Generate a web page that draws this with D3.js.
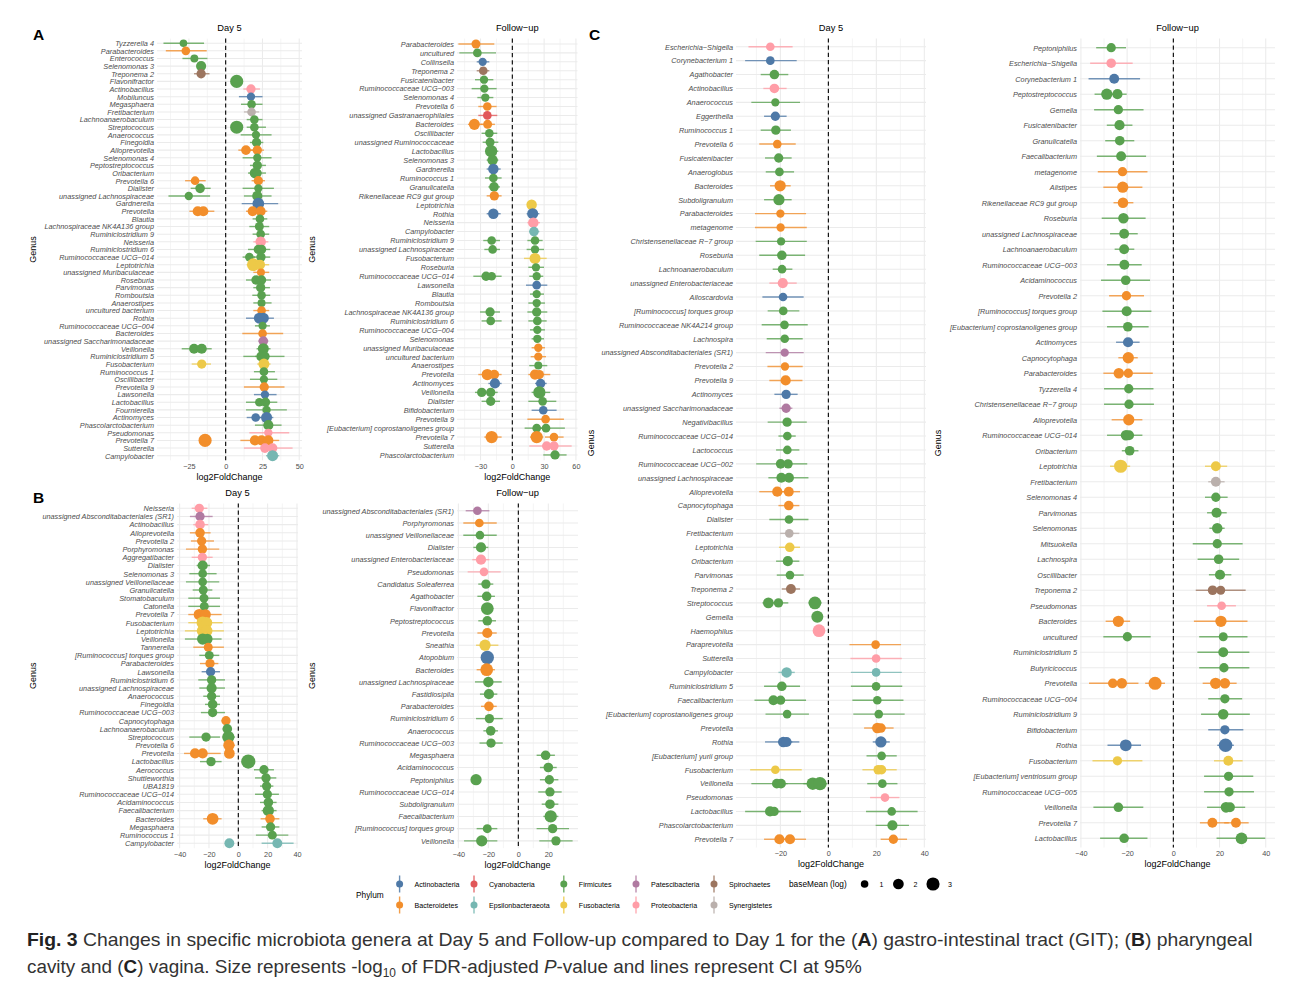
<!DOCTYPE html>
<html><head><meta charset="utf-8">
<script src="https://cdn.jsdelivr.net/npm/d3@7"></script>
<style>body{margin:0;background:#fff}svg{display:block}text{font-family:"Liberation Sans",Arial,Helvetica,sans-serif}</style>
</head><body><svg id="c" width="1295" height="985"></svg>
<script>
// ---------- phyla ----------
const phylumCodes = {Act:"Actinobacteria",Bac:"Bacteroidetes",Cya:"Cyanobacteria",Eps:"Epsilonbacteraeota",Fir:"Firmicutes",Fus:"Fusobacteria",Pat:"Patescibacteria",Pro:"Proteobacteria",Spi:"Spirochaetes",Syn:"Synergistetes"};
const legendRow1 = ["Actinobacteria","Cyanobacteria","Firmicutes","Patescibacteria","Spirochaetes"];
const legendRow2 = ["Bacteroidetes","Epsilonbacteraeota","Fusobacteria","Proteobacteria","Synergistetes"];
const phylumPalette = ["#4E79A7","#E15759","#59A14F","#B07AA1","#9C755F","#F28E2B","#76B7B2","#EDC948","#FF9DA7","#BAB0AC"];
const sizeBreaks = [1,2,3];

// ---------- tick labels ----------
const gitDay5Ticks = [-25,0,25,50];
const gitFollowTicks = [-30,0,30,60];
const phaDay5Ticks = [-40,-20,0,20,40];
const phaFollowTicks = [-40,-20,0,20];
const vagDay5Ticks = [-20,0,20,40];
const vagFollowTicks = [-40,-20,0,20,40];

// ---------- A: GIT Day 5 ----------
const gitDay5Genera = ["Tyzzerella 4","Parabacteroides","Enterococcus","Selenomonas 3","Treponema 2","Flavonifractor","Actinobacillus","Mobiluncus","Megasphaera","Fretibacterium","Lachnoanaerobaculum","Streptococcus","Anaerococcus","Finegoldia","Alloprevotella","Selenomonas 4","Peptostreptococcus","Oribacterium","Prevotella 6","Dialister","unassigned Lachnospiraceae","Gardnerella","Prevotella","Blautia","Lachnospiraceae NK4A136 group","Ruminiclostridium 9","Neisseria","Ruminiclostridium 6","Ruminococcaceae UCG−014","Leptotrichia","unassigned Muribaculaceae","Roseburia","Parvimonas","Romboutsia","Anaerostipes","uncultured bacterium","Rothia","Ruminococcaceae UCG−004","Bacteroides","unassigned Saccharimonadaceae","Veillonella","Ruminiclostridium 5","Fusobacterium","Ruminococcus 1","Oscillibacter","Prevotella 9","Lawsonella","Lactobacillus","Fournierella","Actinomyces","Phascolarctobacterium","Pseudomonas","Prevotella 7","Sutterella","Campylobacter"];
// [genus, log2FC, CI low, CI high, baseMean(log), phylum]
const gitDay5Points = [
["Tyzzerella 4",-28.7,-42.3,-14.7,1.0,"Fir"],["Parabacteroides",-27.1,-40.7,-12.9,1.3,"Bac"],["Enterococcus",-21.3,-29.4,-12.4,1.1,"Fir"],
["Selenomonas 3",-16.7,-19.5,-13.5,1.8,"Fir"],["Treponema 2",-16.7,-21.5,-11.0,1.5,"Spi"],["Flavonifractor",7.5,5.5,9.5,3.0,"Fir"],
["Actinobacillus",17.2,12.0,23.3,1.5,"Pro"],["Mobiluncus",17.2,9.0,25.1,1.2,"Act"],["Megasphaera",17.6,10.4,25.1,1.3,"Fir"],
["Fretibacterium",17.6,12.4,22.8,1.3,"Syn"],["Lachnoanaerobaculum",19.5,14.3,25.1,1.3,"Fir"],["Streptococcus",7.5,5.5,9.5,3.0,"Fir"],
["Streptococcus",19.5,14.3,27.4,1.3,"Fir"],["Anaerococcus",20.6,10.2,31.2,1.2,"Fir"],["Finegoldia",21.0,16.5,25.6,1.5,"Fir"],
["Alloprevotella",13.8,8.6,19.0,1.6,"Bac"],["Alloprevotella",21.5,16.0,26.0,1.5,"Bac"],["Selenomonas 4",21.5,11.5,31.2,1.2,"Fir"],
["Peptostreptococcus",21.5,16.5,27.4,1.5,"Fir"],["Oribacterium",20.0,15.2,24.0,2.0,"Fir"],["Oribacterium",21.5,18.0,27.4,1.4,"Fir"],
["Prevotella 6",-20.8,-27.6,-13.6,1.3,"Bac"],["Prevotella 6",22.2,17.6,26.7,1.5,"Bac"],["Dialister",-17.4,-23.8,-10.2,1.6,"Fir"],
["Dialister",22.2,11.5,32.8,1.2,"Fir"],["unassigned Lachnospiraceae",-25.1,-38.9,-10.6,1.2,"Fir"],["unassigned Lachnospiraceae",21.5,12.4,31.2,1.8,"Fir"],
["Gardnerella",22.2,10.9,35.7,2.4,"Act"],["Prevotella",-19.0,-24.7,-13.0,1.8,"Bac"],["Prevotella",-15.2,-19.0,-7.7,1.8,"Bac"],
["Prevotella",18.3,13.8,23.0,1.7,"Bac"],["Prevotella",23.8,19.0,28.3,1.7,"Bac"],["Blautia",23.3,18.3,28.3,1.3,"Fir"],
["Lachnospiraceae NK4A136 group",22.9,16.1,29.6,1.4,"Fir"],["Ruminiclostridium 9",23.8,18.3,29.6,1.3,"Fir"],["Neisseria",23.8,18.8,29.0,1.9,"Pro"],
["Ruminiclostridium 6",22.2,15.2,27.0,1.5,"Fir"],["Ruminiclostridium 6",24.4,20.0,30.3,1.5,"Fir"],["Ruminococcaceae UCG−014",16.1,11.5,20.0,1.3,"Fir"],
["Ruminococcaceae UCG−014",24.0,19.0,30.3,1.5,"Fir"],["Leptotrichia",18.8,14.3,22.0,2.8,"Fus"],["Leptotrichia",23.3,19.0,29.6,1.8,"Fus"],
["unassigned Muribaculaceae",24.0,18.8,29.6,1.1,"Bac"],["Roseburia",20.6,13.8,25.0,1.5,"Fir"],["Roseburia",24.4,20.0,30.8,1.5,"Fir"],
["Parvimonas",23.8,18.8,30.1,1.5,"Fir"],["Romboutsia",24.4,18.1,30.3,1.3,"Fir"],["Anaerostipes",24.4,18.8,31.2,1.1,"Fir"],
["uncultured bacterium",24.4,18.8,29.6,1.3,"Bac"],["Rothia",22.9,13.8,27.0,2.1,"Act"],["Rothia",25.6,21.0,32.8,2.1,"Act"],
["Ruminococcaceae UCG−004",25.1,19.9,30.1,1.2,"Fir"],["Bacteroides",25.1,11.3,39.1,1.3,"Bac"],["unassigned Saccharimonadaceae",25.6,22.2,29.0,1.6,"Pat"],
["Veillonella",-21.5,-29.9,-15.0,1.7,"Fir"],["Veillonella",-16.3,-21.0,-9.5,1.8,"Fir"],["Veillonella",25.6,21.0,30.5,2.1,"Fir"],
["Ruminiclostridium 5",24.4,12.0,30.0,1.9,"Fir"],["Ruminiclostridium 5",26.7,20.0,40.0,1.5,"Fir"],["Fusobacterium",-16.3,-23.1,-10.0,1.5,"Fus"],
["Fusobacterium",26.0,21.5,30.5,2.1,"Fus"],["Ruminococcus 1",26.0,19.2,33.5,1.3,"Fir"],["Oscillibacter",26.0,16.5,35.1,1.2,"Fir"],
["Prevotella 9",26.2,12.4,40.0,1.5,"Bac"],["Lawsonella",26.7,19.2,34.6,1.2,"Act"],["Lactobacillus",22.9,13.8,27.0,1.3,"Fir"],
["Lactobacillus",27.1,22.0,35.1,1.5,"Fir"],["Fournierella",27.8,13.8,41.6,1.2,"Fir"],["Actinomyces",20.4,14.3,25.0,1.3,"Act"],
["Actinomyces",27.8,22.0,32.4,2.1,"Act"],["Phascolarctobacterium",29.0,19.9,38.0,1.8,"Fir"],["Pseudomonas",29.0,16.1,43.2,1.2,"Pro"],
["Prevotella 7",-14.0,-16.0,-12.0,3.0,"Bac"],["Prevotella 7",19.9,10.0,24.0,1.8,"Bac"],["Prevotella 7",24.4,20.0,29.0,1.8,"Bac"],
["Prevotella 7",29.0,25.0,36.4,1.8,"Bac"],["Sutterella",26.7,12.4,32.0,1.6,"Pro"],["Sutterella",31.9,26.0,45.5,1.6,"Pro"],
["Campylobacter",31.9,27.4,36.4,2.1,"Eps"]];

// ---------- A: GIT Follow-up ----------
const gitFollowGenera = ["Parabacteroides","uncultured","Collinsella","Treponema 2","Fusicatenibacter","Ruminococcaceae UCG−003","Selenomonas 4","Prevotella 6","unassigned Gastranaerophilales","Bacteroides","Oscillibacter","unassigned Ruminococcaceae","Lactobacillus","Selenomonas 3","Gardnerella","Ruminococcus 1","Granulicatella","Rikenellaceae RC9 gut group","Leptotrichia","Rothia","Neisseria","Campylobacter","Ruminiclostridium 9","unassigned Lachnospiraceae","Fusobacterium","Roseburia","Ruminococcaceae UCG−014","Lawsonella","Blautia","Romboutsia","Lachnospiraceae NK4A136 group","Ruminiclostridium 6","Ruminococcaceae UCG−004","Selenomonas","unassigned Muribaculaceae","uncultured bacterium","Anaerostipes","Prevotella","Actinomyces","Veillonella","Dialister","Bifidobacterium","Prevotella 9","[Eubacterium] coprostanoligenes group","Prevotella 7","Sutterella","Phascolarctobacterium"];
const gitFollowPoints = [
["Parabacteroides",-34.3,-50.9,-17.0,1.4,"Bac"],["uncultured",-33.0,-50.0,-15.4,1.3,"Fir"],["Collinsella",-28.0,-33.6,-21.7,1.2,"Act"],
["Treponema 2",-27.4,-33.6,-21.7,1.3,"Spi"],["Fusicatenibacter",-26.7,-35.2,-17.9,1.2,"Fir"],["Ruminococcaceae UCG−003",-26.4,-38.4,-14.8,1.2,"Fir"],
["Selenomonas 4",-25.5,-33.0,-17.9,1.2,"Fir"],["Prevotella 6",-23.6,-32.1,-14.8,1.3,"Bac"],["unassigned Gastranaerophilales",-23.6,-32.1,-14.2,1.3,"Cya"],
["Bacteroides",-35.8,-41.8,-28.0,2.1,"Bac"],["Bacteroides",-23.3,-30.0,-16.4,1.4,"Bac"],["Oscillibacter",-21.7,-29.0,-14.2,1.3,"Fir"],
["unassigned Ruminococcaceae",-21.0,-28.0,-13.2,1.4,"Fir"],["Lactobacillus",-20.0,-25.8,-13.2,2.6,"Fir"],["Selenomonas 3",-18.6,-24.2,-13.2,1.9,"Fir"],
["Gardnerella",-17.9,-24.2,-11.0,1.9,"Act"],["Ruminococcus 1",-17.9,-25.8,-10.1,1.3,"Fir"],["Granulicatella",-17.3,-22.6,-11.6,1.6,"Fir"],
["Rikenellaceae RC9 gut group",-17.0,-24.2,-10.1,1.5,"Bac"],["Leptotrichia",18.2,14.0,22.0,1.9,"Fus"],["Rothia",-17.9,-24.2,-11.0,1.9,"Act"],
["Rothia",19.2,13.5,25.5,2.1,"Act"],["Neisseria",19.8,14.2,26.1,1.9,"Pro"],["Campylobacter",20.4,15.7,25.5,1.6,"Eps"],
["Ruminiclostridium 9",-19.5,-27.4,-11.6,1.3,"Fir"],["Ruminiclostridium 9",21.4,14.2,28.6,1.3,"Fir"],["unassigned Lachnospiraceae",-18.6,-26.4,-11.6,1.3,"Fir"],
["unassigned Lachnospiraceae",21.4,13.5,29.9,1.2,"Fir"],["Fusobacterium",21.4,11.0,32.4,2.1,"Fus"],["Roseburia",22.3,15.1,29.9,1.2,"Fir"],
["Ruminococcaceae UCG−014",-24.8,-36.8,-18.0,1.5,"Fir"],["Ruminococcaceae UCG−014",-19.5,-25.0,-10.1,1.3,"Fir"],["Ruminococcaceae UCG−014",23.0,16.0,29.2,1.2,"Fir"],
["Lawsonella",23.0,12.9,33.0,1.3,"Act"],["Blautia",23.0,16.7,29.9,1.2,"Fir"],["Romboutsia",23.0,15.1,30.8,1.2,"Fir"],
["Lachnospiraceae NK4A136 group",-21.0,-30.5,-11.6,1.5,"Fir"],["Lachnospiraceae NK4A136 group",23.0,14.2,33.0,1.5,"Fir"],
["Ruminiclostridium 6",-20.4,-29.0,-10.1,1.3,"Fir"],["Ruminiclostridium 6",23.6,15.1,32.4,1.3,"Fir"],["Ruminococcaceae UCG−004",23.6,16.7,30.8,1.2,"Fir"],
["Selenomonas",23.6,18.2,29.9,1.2,"Fir"],["unassigned Muribaculaceae",24.5,18.2,30.8,1.2,"Bac"],["uncultured bacterium",24.5,17.3,31.8,1.2,"Bac"],
["Anaerostipes",24.5,16.0,33.0,1.1,"Fir"],["Prevotella",-23.6,-32.1,-19.0,2.2,"Bac"],["Prevotella",-17.0,-22.0,-10.1,1.6,"Bac"],
["Prevotella",21.4,15.1,25.0,1.8,"Bac"],["Prevotella",25.5,21.0,35.8,1.5,"Bac"],["Actinomyces",-16.4,-22.6,-10.1,1.8,"Act"],
["Actinomyces",26.7,21.4,32.4,1.5,"Act"],["Veillonella",-28.9,-35.2,-23.0,1.5,"Fir"],["Veillonella",-20.4,-26.0,-13.8,1.5,"Fir"],
["Veillonella",25.5,18.2,35.8,2.6,"Fir"],["Dialister",-20.4,-29.0,-11.6,1.5,"Fir"],["Dialister",28.6,15.1,41.5,1.3,"Fir"],
["Bifidobacterium",29.2,18.2,41.8,1.3,"Act"],["Prevotella 9",31.4,14.2,48.7,1.3,"Bac"],["[Eubacterium] coprostanoligenes group",23.0,11.6,28.0,1.3,"Fir"],
["[Eubacterium] coprostanoligenes group",31.8,26.0,49.6,1.3,"Fir"],["Prevotella 7",-19.5,-26.4,-10.1,2.6,"Bac"],["Prevotella 7",23.0,16.7,29.2,2.6,"Bac"],
["Prevotella 7",39.3,30.8,48.4,1.3,"Bac"],["Sutterella",32.4,16.0,38.0,1.5,"Pro"],["Sutterella",39.3,33.0,56.0,1.5,"Pro"],
["Phascolarctobacterium",40.3,29.2,51.2,1.5,"Fir"]];

// ---------- B: pharyngeal Day 5 ----------
const phaDay5Genera = ["Neisseria","unassigned Absconditabacteriales (SR1)","Actinobacillus","Alloprevotella","Prevotella 2","Porphyromonas","Aggregatibacter","Dialister","Selenomonas 3","unassigned Veillonellaceae","Granulicatella","Stomatobaculum","Catonella","Prevotella 7","Fusobacterium","Leptotrichia","Veillonella","Tannerella","[Ruminococcus] torques group","Parabacteroides","Lawsonella","Ruminiclostridium 6","unassigned Lachnospiraceae","Anaerococcus","Finegoldia","Ruminococcaceae UCG−003","Capnocytophaga","Lachnoanaerobaculum","Streptococcus","Prevotella 6","Prevotella","Lactobacillus","Aerococcus","Shuttleworthia","UBA1819","Ruminococcaceae UCG−014","Acidaminococcus","Faecalibacterium","Bacteroides","Megasphaera","Ruminococcus 1","Campylobacter"];
const phaDay5Points = [
["Neisseria",-26.6,-31.8,-21.1,1.5,"Pro"],["unassigned Absconditabacteriales (SR1)",-26.1,-33.0,-17.5,1.5,"Pat"],["Actinobacillus",-26.1,-30.7,-20.5,1.6,"Pro"],
["Alloprevotella",-26.1,-33.0,-18.9,1.6,"Bac"],["Prevotella 2",-25.0,-32.3,-16.6,1.5,"Bac"],["Porphyromonas",-24.5,-35.7,-13.0,1.5,"Bac"],
["Aggregatibacter",-24.5,-31.8,-17.5,1.5,"Pro"],["Dialister",-24.3,-28.4,-19.3,1.8,"Fir"],["Selenomonas 3",-24.3,-33.4,-14.8,1.3,"Fir"],
["unassigned Veillonellaceae",-24.3,-35.7,-13.0,1.3,"Fir"],["Granulicatella",-23.9,-31.1,-17.7,1.4,"Fir"],["Stomatobaculum",-23.4,-34.1,-12.5,1.4,"Fir"],
["Catonella",-23.2,-34.1,-12.5,1.4,"Fir"],["Prevotella 7",-26.6,-34.1,-20.0,2.2,"Bac"],["Prevotella 7",-22.3,-27.0,-11.4,1.9,"Bac"],
["Fusobacterium",-24.3,-34.1,-18.0,2.6,"Fus"],["Fusobacterium",-21.6,-27.0,-10.7,2.2,"Fus"],["Leptotrichia",-24.3,-36.4,-18.0,2.4,"Fus"],
["Leptotrichia",-21.6,-27.0,-9.8,2.4,"Fus"],["Veillonella",-24.3,-36.4,-18.0,2.2,"Fir"],["Veillonella",-21.1,-27.0,-11.4,1.9,"Fir"],
["Tannerella",-20.5,-30.7,-9.8,1.4,"Bac"],["[Ruminococcus] torques group",-19.8,-26.6,-13.0,1.4,"Fir"],["Parabacteroides",-19.3,-26.1,-13.6,1.5,"Bac"],
["Lawsonella",-18.9,-25.0,-12.5,1.5,"Act"],["Ruminiclostridium 6",-18.2,-27.3,-9.1,1.5,"Fir"],["unassigned Lachnospiraceae",-18.2,-26.6,-9.1,1.8,"Fir"],
["Anaerococcus",-18.2,-23.9,-12.5,1.5,"Fir"],["Finegoldia",-17.5,-22.7,-12.5,1.6,"Fir"],["Ruminococcaceae UCG−003",-17.5,-25.5,-9.1,1.5,"Fir"],
["Capnocytophaga",-8.4,-11.4,-5.7,1.5,"Bac"],["Lachnoanaerobaculum",-7.5,-10.7,-4.5,1.6,"Fir"],["Streptococcus",-22.0,-33.4,-12.5,1.5,"Fir"],
["Streptococcus",-6.8,-10.7,-2.3,2.6,"Fir"],["Prevotella 6",-6.4,-9.8,-2.3,2.2,"Bac"],["Prevotella",-29.5,-37.0,-24.0,1.8,"Bac"],
["Prevotella",-24.3,-28.0,-12.0,1.8,"Bac"],["Prevotella",-6.1,-9.0,-3.0,2.0,"Bac"],["Lactobacillus",-18.6,-26.1,-11.4,1.5,"Fir"],
["Lactobacillus",6.8,4.5,9.0,3.5,"Fir"],["Aerococcus",17.5,10.7,24.3,1.5,"Fir"],["Shuttleworthia",18.9,11.4,25.9,1.5,"Fir"],
["UBA1819",19.3,14.8,23.9,1.5,"Fir"],["Ruminococcaceae UCG−014",19.8,11.4,27.7,1.5,"Fir"],["Acidaminococcus",20.5,14.8,26.1,1.6,"Fir"],
["Faecalibacterium",20.5,15.9,26.1,2.2,"Fir"],["Bacteroides",-17.5,-23.9,-11.4,2.4,"Bac"],["Bacteroides",21.6,15.2,28.0,1.6,"Bac"],
["Megasphaera",22.0,15.9,28.0,1.5,"Fir"],["Ruminococcus 1",23.2,12.0,34.1,1.4,"Fir"],["Campylobacter",-6.1,-8.0,-4.0,1.7,"Eps"],
["Campylobacter",26.6,15.9,37.7,1.7,"Eps"]];

// ---------- B: pharyngeal Follow-up ----------
const phaFollowGenera = ["unassigned Absconditabacteriales (SR1)","Porphyromonas","unassigned Veillonellaceae","Dialister","unassigned Enterobacteriaceae","Pseudomonas","Candidatus Soleaferrea","Agathobacter","Flavonifractor","Peptostreptococcus","Prevotella","Sneathia","Atopobium","Bacteroides","unassigned Lachnospiraceae","Fastidiosipila","Parabacteroides","Ruminiclostridium 6","Anaerococcus","Ruminococcaceae UCG−003","Megasphaera","Acidaminococcus","Peptoniphilus","Ruminococcaceae UCG−014","Subdoligranulum","Faecalibacterium","[Ruminococcus] torques group","Veillonella"];
const phaFollowPoints = [
["unassigned Absconditabacteriales (SR1)",-27.3,-35.1,-19.3,1.3,"Pat"],["Porphyromonas",-26.0,-36.7,-14.4,1.3,"Bac"],["unassigned Veillonellaceae",-25.6,-36.7,-14.4,1.3,"Fir"],
["Dialister",-24.9,-30.0,-20.0,1.8,"Fir"],["unassigned Enterobacteriaceae",-24.9,-30.7,-19.3,1.8,"Pro"],["Pseudomonas",-22.9,-33.8,-11.8,1.3,"Pro"],
["Candidatus Soleaferrea",-21.6,-26.7,-16.7,1.5,"Fir"],["Agathobacter",-21.1,-27.3,-15.6,1.6,"Fir"],["Flavonifractor",-20.7,-24.4,-16.7,2.8,"Fir"],
["Peptostreptococcus",-20.7,-26.7,-14.9,1.6,"Fir"],["Prevotella",-20.7,-27.3,-14.4,1.8,"Bac"],["Sneathia",-22.2,-28.2,-13.3,2.2,"Fus"],
["Atopobium",-20.7,-24.4,-16.7,3.1,"Act"],["Bacteroides",-21.1,-27.8,-15.6,2.8,"Bac"],["unassigned Lachnospiraceae",-20.0,-28.9,-11.1,1.9,"Fir"],
["Fastidiosipila",-19.6,-25.6,-14.0,1.8,"Fir"],["Parabacteroides",-19.6,-24.9,-14.4,1.6,"Bac"],["Ruminiclostridium 6",-19.3,-28.2,-10.4,1.5,"Fir"],
["Anaerococcus",-18.4,-23.3,-13.6,1.6,"Fir"],["Ruminococcaceae UCG−003",-18.2,-25.9,-10.4,1.5,"Fir"],["Megasphaera",18.2,12.2,24.4,1.6,"Fir"],
["Acidaminococcus",20.0,14.4,25.6,1.6,"Fir"],["Peptoniphilus",-28.2,-31.0,-25.5,2.2,"Fir"],["Peptoniphilus",20.7,14.4,26.7,1.5,"Fir"],
["Ruminococcaceae UCG−014",21.1,13.3,28.9,1.5,"Fir"],["Subdoligranulum",21.1,15.6,26.7,1.6,"Fir"],["Faecalibacterium",21.6,16.7,26.7,2.6,"Fir"],
["[Ruminococcus] torques group",-20.7,-27.8,-14.0,1.4,"Fir"],["[Ruminococcus] torques group",22.9,12.2,33.8,1.5,"Fir"],
["Veillonella",-24.4,-36.2,-14.0,2.2,"Fir"],["Veillonella",25.1,14.0,36.2,1.5,"Fir"]];

// ---------- C: vagina Day 5 ----------
const vagDay5Genera = ["Escherichia−Shigella","Corynebacterium 1","Agathobacter","Actinobacillus","Anaerococcus","Eggerthella","Ruminococcus 1","Prevotella 6","Fusicatenibacter","Anaeroglobus","Bacteroides","Subdoligranulum","Parabacteroides","metagenome","Christensenellaceae R−7 group","Roseburia","Lachnoanaerobaculum","unassigned Enterobacteriaceae","Alloscardovia","[Ruminococcus] torques group","Ruminococcaceae NK4A214 group","Lachnospira","unassigned Absconditabacteriales (SR1)","Prevotella 2","Prevotella 9","Actinomyces","unassigned Saccharimonadaceae","Negativibacillus","Ruminococcaceae UCG−014","Lactococcus","Ruminococcaceae UCG−002","unassigned Lachnospiraceae","Alloprevotella","Capnocytophaga","Dialister","Fretibacterium","Leptotrichia","Oribacterium","Parvimonas","Treponema 2","Streptococcus","Gemella","Haemophilus","Paraprevotella","Sutterella","Campylobacter","Ruminiclostridium 5","Faecalibacterium","[Eubacterium] coprostanoligenes group","Prevotella","Rothia","[Eubacterium] yurii group","Fusobacterium","Veillonella","Pseudomonas","Lactobacillus","Phascolarctobacterium","Prevotella 7"];
const vagDay5Points = [
["Escherichia−Shigella",-24.2,-33.3,-14.9,1.3,"Pro"],["Corynebacterium 1",-24.2,-34.7,-13.2,1.3,"Act"],["Agathobacter",-22.5,-28.2,-16.7,1.6,"Fir"],
["Actinobacillus",-22.5,-27.1,-17.4,1.6,"Pro"],["Anaerococcus",-22.1,-32.1,-11.8,1.2,"Fir"],["Eggerthella",-22.1,-26.8,-17.4,1.5,"Act"],
["Ruminococcus 1",-21.9,-28.2,-15.6,1.5,"Fir"],["Prevotella 6",-21.3,-28.8,-13.6,1.3,"Bac"],["Fusicatenibacter",-20.7,-26.4,-15.3,1.5,"Fir"],
["Anaeroglobus",-20.4,-26.1,-14.3,1.3,"Fir"],["Bacteroides",-20.1,-24.3,-15.7,2.2,"Bac"],["Subdoligranulum",-20.6,-26.8,-15.3,2.2,"Fir"],
["Parabacteroides",-20.0,-30.6,-9.3,1.2,"Bac"],["metagenome",-19.9,-30.6,-9.0,1.2,"Bac"],["Christensenellaceae R−7 group",-19.7,-30.3,-9.0,1.2,"Fir"],
["Roseburia",-19.4,-28.8,-9.7,1.6,"Fir"],["Lachnoanaerobaculum",-19.3,-23.2,-15.0,1.3,"Fir"],["unassigned Enterobacteriaceae",-19.0,-24.6,-13.2,1.8,"Pro"],
["Alloscardovia",-18.9,-27.5,-10.3,1.3,"Act"],["[Ruminococcus] torques group",-18.8,-25.3,-12.1,1.3,"Fir"],["Ruminococcaceae NK4A214 group",-18.3,-27.8,-8.6,1.3,"Fir"],
["Lachnospira",-18.2,-25.7,-10.7,1.3,"Fir"],["unassigned Absconditabacteriales (SR1)",-18.2,-26.1,-10.3,1.2,"Pat"],["Prevotella 2",-18.1,-25.4,-10.7,1.2,"Bac"],
["Prevotella 9",-17.8,-24.6,-10.8,1.8,"Bac"],["Actinomyces",-17.6,-22.5,-12.8,1.5,"Act"],["unassigned Saccharimonadaceae",-17.6,-20.4,-15.0,1.5,"Pat"],
["Negativibacillus",-17.2,-25.3,-9.0,1.5,"Fir"],["Ruminococcaceae UCG−014",-17.1,-20.8,-13.6,1.3,"Fir"],["Lactococcus",-17.1,-21.8,-12.1,1.3,"Fir"],
["Ruminococcaceae UCG−002",-19.9,-30.1,-15.0,1.6,"Fir"],["Ruminococcaceae UCG−002",-16.8,-21.0,-8.8,1.5,"Fir"],
["unassigned Lachnospiraceae",-19.6,-25.0,-15.0,1.7,"Fir"],["unassigned Lachnospiraceae",-16.4,-20.0,-8.3,1.7,"Fir"],
["Alloprevotella",-21.3,-28.8,-17.0,1.8,"Bac"],["Alloprevotella",-16.5,-20.0,-11.8,1.7,"Bac"],["Capnocytophaga",-16.5,-20.8,-12.1,1.6,"Bac"],
["Dialister",-16.4,-24.6,-8.3,1.3,"Fir"],["Fretibacterium",-16.3,-20.1,-12.1,1.3,"Syn"],["Leptotrichia",-16.1,-20.6,-11.8,1.6,"Fus"],
["Oribacterium",-16.9,-21.8,-12.1,1.8,"Fir"],["Parvimonas",-16.0,-21.5,-10.3,1.3,"Fir"],["Treponema 2",-15.6,-19.4,-11.8,1.7,"Spi"],
["Streptococcus",-25.0,-27.5,-21.5,2.0,"Fir"],["Streptococcus",-20.8,-23.0,-16.7,1.5,"Fir"],["Streptococcus",-5.6,-8.3,-2.8,2.8,"Fir"],
["Gemella",-4.6,-6.5,-2.8,2.5,"Fir"],["Haemophilus",-3.9,-5.8,-2.0,2.8,"Pro"],["Paraprevotella",19.7,8.8,30.3,1.3,"Bac"],
["Sutterella",19.9,9.2,30.6,1.3,"Pro"],["Campylobacter",-17.4,-20.8,-14.0,1.9,"Eps"],["Campylobacter",19.9,9.4,30.6,1.3,"Eps"],
["Ruminiclostridium 5",-19.4,-26.8,-11.8,1.6,"Fir"],["Ruminiclostridium 5",19.9,9.4,30.8,1.3,"Fir"],
["Faecalibacterium",-22.9,-30.8,-18.5,1.7,"Fir"],["Faecalibacterium",-19.9,-24.0,-9.3,1.5,"Fir"],["Faecalibacterium",20.4,10.0,31.3,1.3,"Fir"],
["[Eubacterium] coprostanoligenes group",-17.2,-26.2,-8.1,1.3,"Fir"],["[Eubacterium] coprostanoligenes group",21.0,10.4,31.8,1.3,"Fir"],
["Prevotella",20.4,14.9,24.0,1.9,"Bac"],["Prevotella",21.9,18.0,27.2,1.6,"Bac"],["Rothia",-18.8,-26.4,-15.0,1.9,"Act"],
["Rothia",-17.4,-21.0,-12.1,1.7,"Act"],["Rothia",21.9,18.5,25.6,2.2,"Act"],["[Eubacterium] yurii group",22.2,15.9,28.5,1.3,"Fir"],
["Fusobacterium",-22.1,-32.6,-11.1,1.3,"Fus"],["Fusobacterium",20.8,14.2,24.0,1.6,"Fus"],["Fusobacterium",22.2,19.0,28.5,1.5,"Fus"],
["Veillonella",-21.5,-32.1,-17.0,1.6,"Fir"],["Veillonella",-19.7,-23.0,-7.6,1.6,"Fir"],["Veillonella",-6.5,-10.4,-3.0,2.7,"Fir"],
["Veillonella",-3.5,-6.0,-0.4,3.1,"Fir"],["Veillonella",22.5,16.2,28.8,1.3,"Fir"],["Pseudomonas",23.6,17.4,29.6,1.3,"Pro"],
["Lactobacillus",-24.3,-34.7,-20.0,1.8,"Fir"],["Lactobacillus",-22.6,-26.0,-11.4,1.5,"Fir"],["Lactobacillus",26.4,15.7,37.2,1.3,"Fir"],
["Phascolarctobacterium",26.7,19.7,33.6,1.8,"Fir"],["Prevotella 7",-20.4,-26.8,-16.0,1.8,"Bac"],["Prevotella 7",-16.0,-20.0,-9.3,1.8,"Bac"],
["Prevotella 7",27.1,21.8,32.8,1.5,"Bac"]];

// ---------- C: vagina Follow-up ----------
const vagFollowGenera = ["Peptoniphilus","Escherichia−Shigella","Corynebacterium 1","Peptostreptococcus","Gemella","Fusicatenibacter","Granulicatella","Faecalibacterium","metagenome","Alistipes","Rikenellaceae RC9 gut group","Roseburia","unassigned Lachnospiraceae","Lachnoanaerobaculum","Ruminococcaceae UCG−003","Acidaminococcus","Prevotella 2","[Ruminococcus] torques group","[Eubacterium] coprostanoligenes group","Actinomyces","Capnocytophaga","Parabacteroides","Tyzzerella 4","Christensenellaceae R−7 group","Alloprevotella","Ruminococcaceae UCG−014","Oribacterium","Leptotrichia","Fretibacterium","Selenomonas 4","Parvimonas","Selenomonas","Mitsuokella","Lachnospira","Oscillibacter","Treponema 2","Pseudomonas","Bacteroides","uncultured","Ruminiclostridium 5","Butyricicoccus","Prevotella","Ruminococcaceae UCG−004","Ruminiclostridium 9","Bifidobacterium","Rothia","Fusobacterium","[Eubacterium] ventriosum group","Ruminococcaceae UCG−005","Veillonella","Prevotella 7","Lactobacillus"];
const vagFollowPoints = [
["Peptoniphilus",-26.9,-33.4,-20.5,1.5,"Fir"],["Escherichia−Shigella",-26.9,-36.0,-17.6,1.6,"Pro"],["Corynebacterium 1",-25.6,-36.7,-14.4,1.7,"Act"],
["Peptostreptococcus",-28.8,-34.1,-25.0,2.2,"Fir"],["Peptostreptococcus",-24.2,-27.0,-20.2,1.8,"Fir"],["Gemella",-23.8,-34.3,-12.9,1.5,"Fir"],
["Fusicatenibacter",-23.3,-28.8,-17.7,1.8,"Fir"],["Granulicatella",-23.2,-29.5,-16.9,1.6,"Fir"],["Faecalibacterium",-22.6,-33.1,-11.8,1.7,"Fir"],
["metagenome",-22.0,-32.7,-11.2,1.5,"Bac"],["Alistipes",-21.9,-30.3,-13.4,2.2,"Bac"],["Rikenellaceae RC9 gut group",-21.8,-25.9,-17.3,1.9,"Bac"],
["Roseburia",-21.6,-31.0,-12.0,1.9,"Fir"],["unassigned Lachnospiraceae",-21.3,-27.4,-15.4,1.7,"Fir"],["Lachnoanaerobaculum",-21.3,-25.4,-16.9,1.7,"Fir"],
["Ruminococcaceae UCG−003",-21.2,-28.7,-13.7,1.7,"Fir"],["Acidaminococcus",-20.6,-31.3,-10.1,1.6,"Fir"],["Prevotella 2",-20.3,-27.8,-12.7,1.5,"Bac"],
["[Ruminococcus] torques group",-20.2,-30.7,-9.5,1.8,"Fir"],["[Eubacterium] coprostanoligenes group",-19.7,-28.7,-10.7,1.6,"Fir"],
["Actinomyces",-19.6,-24.8,-14.6,1.8,"Act"],["Capnocytophaga",-19.5,-23.8,-15.4,2.2,"Bac"],["Parabacteroides",-23.6,-30.3,-19.5,1.9,"Bac"],
["Parabacteroides",-19.5,-23.0,-8.9,1.5,"Bac"],["Tyzzerella 4",-19.3,-30.0,-8.6,1.5,"Fir"],["Christensenellaceae R−7 group",-19.2,-30.0,-8.4,1.5,"Fir"],
["Alloprevotella",-19.3,-26.7,-13.4,2.2,"Bac"],["Ruminococcaceae UCG−014",-20.5,-28.7,-17.0,1.9,"Fir"],["Ruminococcaceae UCG−014",-19.2,-22.0,-13.4,1.8,"Fir"],
["Oribacterium",-18.9,-22.3,-15.1,1.6,"Fir"],["Leptotrichia",-22.8,-27.4,-18.7,3.0,"Fus"],["Leptotrichia",18.4,13.7,23.3,1.7,"Fus"],
["Fretibacterium",18.4,15.1,22.2,1.7,"Syn"],["Selenomonas 4",18.4,13.7,23.5,1.5,"Fir"],["Parvimonas",18.7,14.6,23.1,1.8,"Fir"],
["Selenomonas",19.0,15.6,22.2,1.9,"Fir"],["Mitsuokella",19.0,8.4,30.0,1.5,"Fir"],["Lachnospira",19.6,10.5,28.5,1.6,"Fir"],
["Oscillibacter",20.2,15.4,25.1,1.8,"Fir"],["Treponema 2",17.0,9.7,20.0,1.6,"Spi"],["Treponema 2",20.5,17.0,31.3,1.4,"Spi"],
["Pseudomonas",20.9,14.6,27.1,1.3,"Pro"],["Bacteroides",-23.8,-29.3,-18.7,2.2,"Bac"],["Bacteroides",20.6,8.9,32.1,2.2,"Bac"],
["uncultured",-19.9,-30.3,-9.8,1.5,"Fir"],["uncultured",21.6,11.2,32.1,1.4,"Fir"],["Ruminiclostridium 5",21.6,10.4,32.9,1.7,"Fir"],
["Butyricicoccus",21.9,11.2,32.9,1.5,"Fir"],["Prevotella",-26.2,-36.5,-22.0,1.6,"Bac"],["Prevotella",-22.3,-26.0,-15.1,1.9,"Bac"],
["Prevotella",-7.9,-12.2,-3.6,3.0,"Bac"],["Prevotella",18.3,12.7,22.0,2.2,"Bac"],["Prevotella",22.3,19.0,27.4,1.9,"Bac"],
["Ruminococcaceae UCG−004",22.3,15.1,29.8,1.5,"Fir"],["Ruminiclostridium 9",21.6,12.0,33.1,1.9,"Fir"],["Bifidobacterium",22.3,15.1,30.3,1.5,"Act"],
["Rothia",-20.6,-28.5,-14.0,2.4,"Act"],["Rothia",22.6,19.0,26.2,3.2,"Act"],["Fusobacterium",-24.2,-35.0,-13.4,1.5,"Fus"],
["Fusobacterium",23.8,17.6,30.0,1.7,"Fus"],["[Eubacterium] ventriosum group",23.9,13.3,34.6,1.5,"Fir"],["Ruminococcaceae UCG−005",24.1,13.3,34.9,1.5,"Fir"],
["Veillonella",-23.8,-34.6,-13.0,1.6,"Fir"],["Veillonella",22.8,14.6,26.0,2.0,"Fir"],["Veillonella",24.5,21.0,31.1,1.7,"Fir"],
["Prevotella 7",16.9,11.5,24.0,1.7,"Bac"],["Prevotella 7",27.1,22.0,32.6,1.7,"Bac"],["Lactobacillus",-21.3,-31.7,-11.2,1.6,"Fir"],
["Lactobacillus",29.5,18.7,39.8,2.4,"Fir"]];

// ---------- drawing ----------
const svg = d3.select("#c");
const color = d3.scaleOrdinal().domain(legendRow1.concat(legendRow2)).range(phylumPalette);
const rScale = d3.scaleSqrt().domain([0,3]).range([0,3.8*Math.sqrt(3)]);
const GRID = "#EBEBEB", TXT = "#4D4D4D";
const minus = d => d < 0 ? "\u2212" + Math.abs(d) : String(d);

const panels = [
 {genera:gitDay5Genera, points:gitDay5Points, ticks:gitDay5Ticks, title:"Day 5", domain:[-46.7,51.9], left:157, right:302, top:38.6, bottom:460.3, genusX:33},
 {genera:gitFollowGenera, points:gitFollowPoints, ticks:gitFollowTicks, title:"Follow\u2212up", domain:[-52.2,61.5], left:457, right:577.5, top:38.6, bottom:460.3, genusX:312},
 {genera:phaDay5Genera, points:phaDay5Points, ticks:phaDay5Ticks, title:"Day 5", domain:[-41.8,40.7], left:177, right:298, top:503.4, bottom:848.2, genusX:33},
 {genera:phaFollowGenera, points:phaFollowPoints, ticks:phaFollowTicks, title:"Follow\u2212up", domain:[-40.9,39.8], left:457, right:578, top:503.4, bottom:848.2, genusX:312},
 {genera:vagDay5Genera, points:vagDay5Points, ticks:vagDay5Ticks, title:"Day 5", domain:[-38.5,40.7], left:736, right:926, top:38.4, bottom:847.6, genusX:591},
 {genera:vagFollowGenera, points:vagFollowPoints, ticks:vagFollowTicks, title:"Follow\u2212up", domain:[-40.4,44.0], left:1080, right:1275, top:38.4, bottom:847.6, genusX:938}
];

panels.forEach(p => {
  const x = d3.scaleLinear().domain(p.domain).range([p.left, p.right]);
  const y = d3.scalePoint().domain(p.genera).range([p.top, p.bottom]).padding(0.6);
  const g = svg.append("g");
  const step = p.ticks[1] - p.ticks[0];
  const minors = [];
  for (let m = p.ticks[0] - step/2; m <= p.domain[1]; m += step) if (m >= p.domain[0]) minors.push(m);
  g.append("g").selectAll("line").data(minors).join("line")
    .attr("x1", x).attr("x2", x).attr("y1", p.top).attr("y2", p.bottom)
    .attr("stroke", GRID).attr("stroke-width", 0.55);
  g.append("g").selectAll("line").data(p.ticks).join("line")
    .attr("x1", x).attr("x2", x).attr("y1", p.top).attr("y2", p.bottom)
    .attr("stroke", GRID).attr("stroke-width", 1.05);
  g.append("g").selectAll("line").data(p.genera).join("line")
    .attr("x1", p.left).attr("x2", p.right).attr("y1", y).attr("y2", y)
    .attr("stroke", GRID).attr("stroke-width", 1.05);
  g.append("line").attr("x1", x(0)).attr("x2", x(0)).attr("y1", p.top).attr("y2", p.bottom)
    .attr("stroke", "#000").attr("stroke-width", 1.1).attr("stroke-dasharray", "4.2,3");
  const ya = g.append("g").attr("transform", `translate(${p.left},0)`)
    .call(d3.axisLeft(y).tickSize(0).tickPadding(3));
  ya.select(".domain").remove();
  ya.selectAll("text").attr("font-size", 7.3).attr("font-style", "italic").attr("fill", TXT)
    .attr("font-family", '"Liberation Sans",Arial,sans-serif');
  const xa = g.append("g").attr("transform", `translate(0,${p.bottom + 3.4})`)
    .call(d3.axisBottom(x).tickValues(p.ticks).tickSize(0).tickPadding(0).tickFormat(minus));
  xa.select(".domain").remove();
  xa.selectAll("text").attr("font-size", 7.3).attr("fill", TXT)
    .attr("font-family", '"Liberation Sans",Arial,sans-serif');
  const cx = (p.left + p.right) / 2;
  g.append("text").attr("x", cx).attr("y", p.top - 7.3).attr("text-anchor", "middle")
    .attr("font-size", 9.3).attr("fill", "#000").text(p.title);
  g.append("text").attr("x", cx).attr("y", p.bottom + 19.8).attr("text-anchor", "middle")
    .attr("font-size", 9).attr("fill", "#000").text("log2FoldChange");
  g.append("text").attr("transform", `translate(${p.genusX + 3},${(p.top + p.bottom)/2}) rotate(-90)`)
    .attr("text-anchor", "middle").attr("font-size", 9).attr("fill", "#000").text("Genus");
  const mk = g.append("g").selectAll("g").data(p.points).join("g");
  mk.append("line").attr("x1", d => x(d[2])).attr("x2", d => x(d[3]))
    .attr("y1", d => y(d[0])).attr("y2", d => y(d[0]))
    .attr("stroke", d => color(phylumCodes[d[5]])).attr("stroke-width", 1.4).attr("stroke-opacity", 0.78);
  mk.append("circle").attr("cx", d => x(d[1])).attr("cy", d => y(d[0])).attr("r", d => rScale(d[4]))
    .attr("fill", d => color(phylumCodes[d[5]]));
});

[["A",33,40],["B",33,503],["C",589,39.5]].forEach(([t,xx,yy]) =>
  svg.append("text").attr("x", xx).attr("y", yy).attr("font-size", 15.5).attr("font-weight", "bold").attr("fill", "#000").text(t));

const lg = svg.append("g");
lg.append("text").attr("x", 356).attr("y", 898).attr("font-size", 8.3).attr("fill", "#000").text("Phylum");
const colX = [399.6, 474, 563.8, 636, 714];
[[legendRow1, 884],[legendRow2, 905]].forEach(([row, yy]) => {
  row.forEach((name, i) => {
    const k = lg.append("g");
    k.append("line").attr("x1", colX[i]).attr("x2", colX[i]).attr("y1", yy - 8.5).attr("y2", yy + 8.5)
      .attr("stroke", color(name)).attr("stroke-width", 1.4).attr("stroke-opacity", 0.85);
    k.append("circle").attr("cx", colX[i]).attr("cy", yy).attr("r", 3.5).attr("fill", color(name));
    k.append("text").attr("x", colX[i] + 15).attr("y", yy + 2.5).attr("font-size", 7.1).attr("fill", "#000").text(name);
  });
});
lg.append("text").attr("x", 789).attr("y", 887).attr("font-size", 8.3).attr("fill", "#000").text("baseMean (log)");
const dotX = [864.6, 898.4, 933];
sizeBreaks.forEach((b, i) => {
  lg.append("circle").attr("cx", dotX[i]).attr("cy", 884).attr("r", rScale(b)).attr("fill", "#000");
  lg.append("text").attr("x", dotX[i] + 17).attr("y", 886.5).attr("text-anchor", "middle").attr("font-size", 7.1).attr("fill", "#000").text(b);
});

function captionLine(yy, parts, targetW) {
  const t = svg.append("text").attr("x", 27).attr("y", yy).attr("font-size", 19).attr("fill", "#333")
    .attr("font-family", '"Open Sans","Liberation Sans",sans-serif');
  parts.forEach(pt => {
    const s = t.append("tspan").text(pt.t);
    if (pt.b) s.attr("font-weight", "bold").attr("fill", "#222");
    if (pt.i) s.attr("font-style", "italic");
    if (pt.sub) s.attr("font-size", 12).attr("dy", 4);
    if (pt.up) s.attr("dy", -4);
  });
  const w = t.node().getComputedTextLength();
  t.attr("transform", `translate(27,0) scale(${targetW / w},1) translate(-27,0)`);
}
captionLine(946, [{t:"Fig. 3", b:1},{t:" Changes in specific microbiota genera at Day 5 and Follow-up compared to Day 1 for the ("},{t:"A", b:1},{t:") gastro-intestinal tract (GIT); ("},{t:"B", b:1},{t:") pharyngeal"}], 1226);
captionLine(973, [{t:"cavity and ("},{t:"C", b:1},{t:") vagina. Size represents -log"},{t:"10", sub:1},{t:" of FDR-adjusted ", up:1},{t:"P", i:1},{t:"-value and lines represent CI at 95%"}], 835);
</script></body></html>
